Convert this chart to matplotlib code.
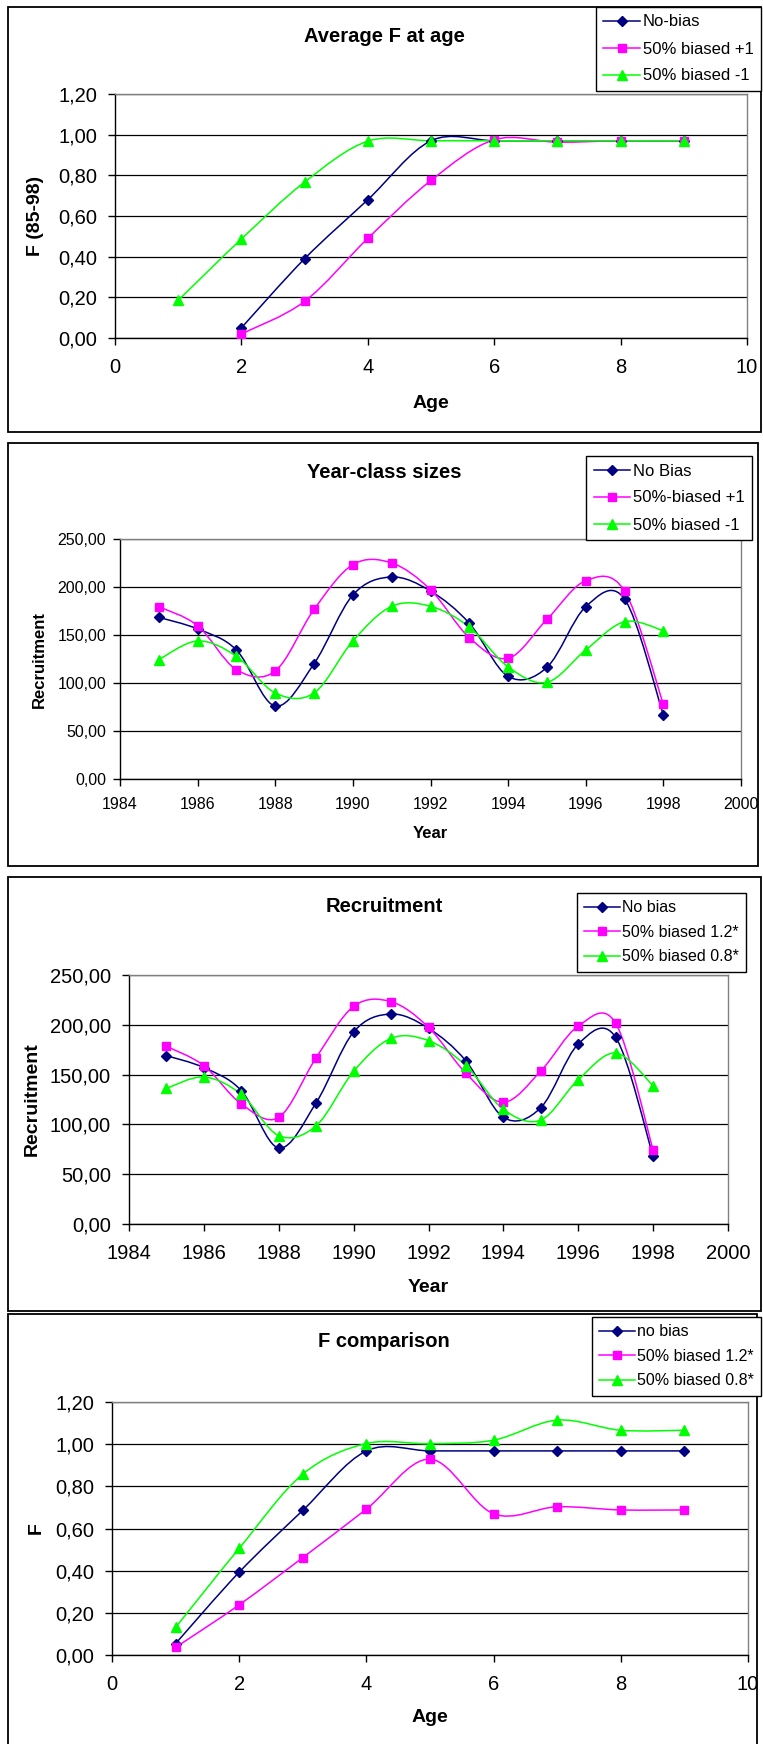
import matplotlib
matplotlib.use('Agg')
import matplotlib.pyplot as plt
from matplotlib.path import Path
from matplotlib.patches import PathPatch, Rectangle
from matplotlib.lines import Line2D
from matplotlib.ticker import FuncFormatter, MultipleLocator

plt.rcParams['font.family'] = ['Liberation Sans', 'DejaVu Sans']

# ---- data ----
ages_a = [2, 3, 4, 5, 6, 7, 8, 9]
ages_b = [1, 2, 3, 4, 5, 6, 7, 8, 9]
years = list(range(1985, 1999))

# Average F at age
favg_nobias = [0.05, 0.39, 0.68, 0.97, 0.97, 0.97, 0.97, 0.97]
favg_plus1 = [0.02, 0.18, 0.49, 0.775, 0.975, 0.963, 0.97, 0.97]
favg_minus1 = [0.185, 0.487, 0.767, 0.968, 0.97, 0.97, 0.97, 0.97, 0.97]

# Year-class sizes
ycs_nobias = [168.4, 156.3, 134.4, 76.0, 120.1, 191.7, 210.4, 195.8, 162.2, 106.9, 116.3, 179.5, 187.5, 66.7]
ycs_plus1 = [179.5, 159.7, 113.9, 112.5, 176.7, 223.3, 225.0, 197.2, 147.2, 125.7, 166.3, 206.6, 195.8, 77.8]
ycs_minus1 = [124.3, 143.8, 127.8, 89.6, 89.6, 143.8, 179.9, 179.9, 158.3, 116.7, 100.7, 134.4, 163.9, 154.5]

# Recruitment
rec_nobias = [169.0, 157.0, 133.9, 76.3, 121.8, 192.8, 210.8, 196.5, 163.7, 107.1, 116.8, 180.7, 187.4, 67.9]
rec_12 = [178.4, 159.0, 120.5, 107.1, 167.0, 218.5, 223.2, 197.5, 151.3, 122.2, 153.6, 198.8, 201.5, 74.3]
rec_08 = [136.2, 147.6, 130.2, 88.7, 98.7, 153.3, 186.4, 184.1, 159.0, 115.1, 104.4, 144.9, 171.7, 138.9]

# F comparison
fcmp_nobias = [0.054, 0.393, 0.686, 0.968, 0.968, 0.968, 0.968, 0.968, 0.968]
fcmp_12 = [0.036, 0.238, 0.462, 0.692, 0.929, 0.670, 0.703, 0.688, 0.688]
fcmp_08 = [0.131, 0.506, 0.858, 1.003, 1.002, 1.019, 1.114, 1.066, 1.066]

NAVY = '#000080'
PINK = '#FF00FF'
LIME = '#00FF00'
STYLES = [(NAVY, 'D', 5), (PINK, 's', 5.5), (LIME, '^', 6.5)]

W, H = 763, 1744
fig = plt.figure(figsize=(W / 100, H / 100), dpi=100)


def smooth_path(xs, ys):
    # Excel-like smoothed line: cubic Bezier through the points
    pts = list(zip(xs, ys))
    n = len(pts)
    verts = [pts[0]]
    codes = [Path.MOVETO]
    for i in range(n - 1):
        p0 = pts[i - 1] if i > 0 else pts[i]
        p1, p2 = pts[i], pts[i + 1]
        p3 = pts[i + 2] if i + 2 < n else pts[i + 1]
        c1 = (p1[0] + (p2[0] - p0[0]) / 6, p1[1] + (p2[1] - p0[1]) / 6)
        c2 = (p2[0] - (p3[0] - p1[0]) / 6, p2[1] - (p3[1] - p1[1]) / 6)
        verts += [c1, c2, p2]
        codes += [Path.CURVE4] * 3
    return Path(verts, codes)


def comma(v, pos):
    return f'{v:.2f}'.replace('.', ',')


def draw_panel(frame, box, series, labels, title, xlabel, ylabel,
               xlim, ylim, ystep, legend_at, pos, fs_tick=14.5, fs_lab=14,
               fs_title=14.5, fs_leg=12, lspace=0.6, xpad=9.5, ypad=8):
    fl, ft, fr, fb = frame
    fig.patches.append(Rectangle((fl / W, 1 - fb / H), (fr - fl) / W, (fb - ft) / H,
                                 transform=fig.transFigure, fill=False,
                                 edgecolor='black', lw=1.3))
    l, t, r, b = box
    ax = fig.add_axes([l / W, 1 - b / H, (r - l) / W, (b - t) / H])
    for (xs, ys), (c, m, ms) in zip(series, STYLES):
        ax.add_patch(PathPatch(smooth_path(xs, ys), facecolor='none',
                               edgecolor=c, lw=1.1, zorder=3))
        ax.plot(xs, ys, ls='none', marker=m, ms=ms, color=c, zorder=4)
    ax.set_xlim(*xlim)
    ax.set_ylim(*ylim)
    ax.xaxis.set_major_locator(MultipleLocator(2))
    ax.yaxis.set_major_locator(MultipleLocator(ystep))
    ax.yaxis.set_major_formatter(FuncFormatter(comma))
    ax.grid(axis='y', color='black', lw=0.9)
    ax.set_axisbelow(True)
    for s in ('top', 'right'):
        ax.spines[s].set_color('#808080')
    for s in ('left', 'bottom'):
        ax.spines[s].set_color('black')
    for s in ax.spines.values():
        s.set_linewidth(1.0)
    ax.tick_params(axis='both', direction='out', length=5, width=1,
                   labelsize=fs_tick)
    ax.tick_params(axis='x', pad=xpad)
    ax.tick_params(axis='y', pad=ypad)

    tx, ty, xly, ylx = pos
    fig.text(tx / W, 1 - ty / H, title, ha='center', va='center',
             fontsize=fs_title, fontweight='bold')
    fig.text((l + r) / 2 / W, 1 - xly / H, xlabel, ha='center', va='center',
             fontsize=fs_lab, fontweight='bold')
    fig.text(ylx / W, 1 - (t + b) / 2 / H, ylabel, ha='center', va='center',
             rotation=90, fontsize=fs_lab, fontweight='bold')

    handles = [Line2D([], [], color=c, marker=m, ms=ms, lw=1.1)
               for c, m, ms in STYLES]
    lx, ly = legend_at
    leg = fig.legend(handles, labels, loc='upper right',
                     bbox_to_anchor=(lx / W, 1 - ly / H), frameon=True,
                     fancybox=False, edgecolor='black', framealpha=1,
                     fontsize=fs_leg, handlelength=2.2, handletextpad=0.15,
                     labelspacing=lspace, borderpad=0.45, borderaxespad=0)
    leg.get_frame().set_linewidth(1.0)
    return ax


draw_panel((8, 7, 761, 432), (115, 94, 747, 338),
           [(ages_a, favg_nobias), (ages_a, favg_plus1), (ages_b, favg_minus1)],
           ['No-bias', '50% biased +1', '50% biased -1'],
           'Average F at age', 'Age', 'F (85-98)',
           (0, 10), (0, 1.2), 0.2, (761, 7), (384, 37, 403, 35),
           lspace=0.72)

draw_panel((8, 443, 758, 866), (120, 539, 741, 779),
           [(years, ycs_nobias), (years, ycs_plus1), (years, ycs_minus1)],
           ['No Bias', '50%-biased +1', '50% biased -1'],
           'Year-class sizes', 'Year', 'Recruitment',
           (1984, 2000), (0, 250), 50, (752, 456), (384, 472, 833, 39),
           fs_tick=11.5, fs_lab=12, lspace=0.72, xpad=8, ypad=5)

draw_panel((8, 877, 761, 1311), (129, 975, 728, 1224),
           [(years, rec_nobias), (years, rec_12), (years, rec_08)],
           ['No bias', '50% biased 1.2*', '50% biased 0.8*'],
           'Recruitment', 'Year', 'Recruitment',
           (1984, 2000), (0, 250), 50, (746, 893), (384, 906, 1287, 32),
           fs_leg=11.5)

draw_panel((8, 1314, 757, 1770), (112, 1402, 748, 1655),
           [(ages_b, fcmp_nobias), (ages_b, fcmp_12), (ages_b, fcmp_08)],
           ['no bias', '50% biased 1.2*', '50% biased 0.8*'],
           'F comparison', 'Age', 'F',
           (0, 10), (0, 1.2), 0.2, (761, 1317), (384, 1341, 1717, 36),
           fs_leg=11.5)

fig.savefig('out.png', dpi=100, facecolor='white')
